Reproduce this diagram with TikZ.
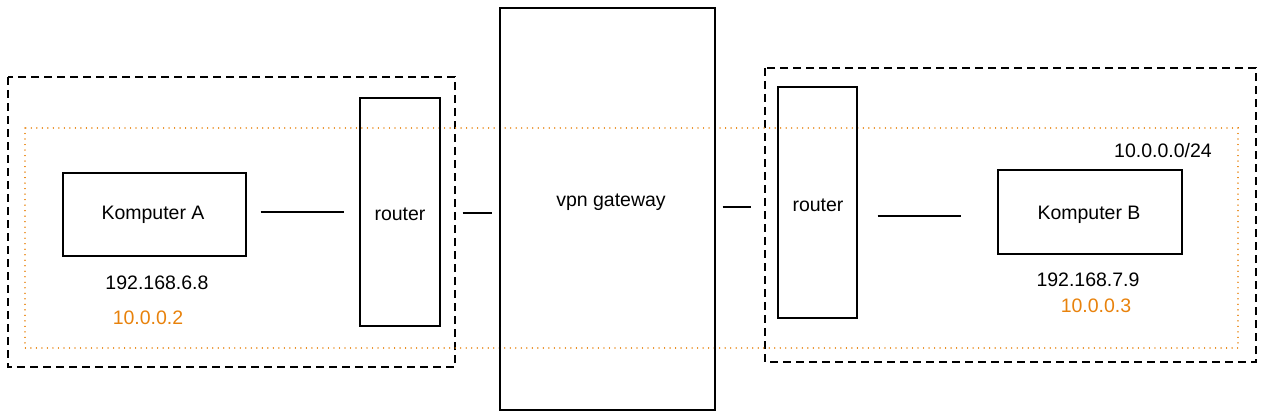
\documentclass[tikz,border=0pt]{standalone}
\usepackage{fontspec}
\setmainfont{Liberation Sans}
\definecolor{vpnorange}{RGB}{232,130,12}
\begin{document}
\begin{tikzpicture}[x=1pt,y=-1pt,
  box/.style={draw=black,line width=1.2pt,minimum width=#1},
  lbl/.style={font=\fontsize{19.5}{23}\selectfont,inner sep=0pt},
  olbl/.style={lbl,text=vpnorange},
  link/.style={draw=black,line width=1.2pt},
  netbox/.style={draw=black,line width=1.1pt,dash pattern=on 8pt off 5pt},
  vpnbox/.style={draw=vpnorange,line width=1.4pt,dash pattern=on 0.01pt off 5.5pt,line cap=round}]
\useasboundingbox (0,0) rectangle (1267,420);
% network areas
\draw[netbox] (8,77) rectangle (455,367);
\draw[netbox] (765,68) rectangle (1256,362);
\draw[vpnbox] (25,128) rectangle (1238,348);
% devices
\node[box=183pt,minimum height=83pt] (ka) at (154.5,214.5) {};
\node[lbl] (kat) at (153,215) {Komputer A};
\node[box=80pt,minimum height=228pt] (rl) at (400,212) {};
\node[lbl] (rlt) at (400,214) {router};
\node[box=215pt,minimum height=402pt] (vpn) at (607.5,209) {};
\node[lbl] (vpnt) at (611,202) {vpn gateway};
\node[box=79pt,minimum height=231pt] (rr) at (817.5,202.5) {};
\node[lbl] (rrt) at (818,205) {router};
\node[box=184pt,minimum height=84pt] (kb) at (1090,212) {};
\node[lbl] (kbt) at (1089,215) {Komputer B};
% links
\draw[link] ([shift={(14,-2.5)}]ka.east) -- ([shift={(-15,0)}]rl.west);
\draw[link] ([shift={(22,1)}]rl.east) -- ([shift={(-7,4)}]vpn.west);
\draw[link] ([shift={(7,-2)}]vpn.east) -- ([shift={(-26,4.5)}]rr.west);
\draw[link] ([shift={(20,13.5)}]rr.east) -- ([shift={(-36,4)}]kb.west);
% addresses
\node[lbl] (ipa) at (157,283) {192.168.6.8};
\node[olbl] (vipa) at (148,318) {10.0.0.2};
\node[lbl] (ipb) at (1088,280) {192.168.7.9};
\node[olbl] (vipb) at (1096,306) {10.0.0.3};
\node[lbl] (net) at (1163,151) {10.0.0.0/24};
\end{tikzpicture}
\end{document}
